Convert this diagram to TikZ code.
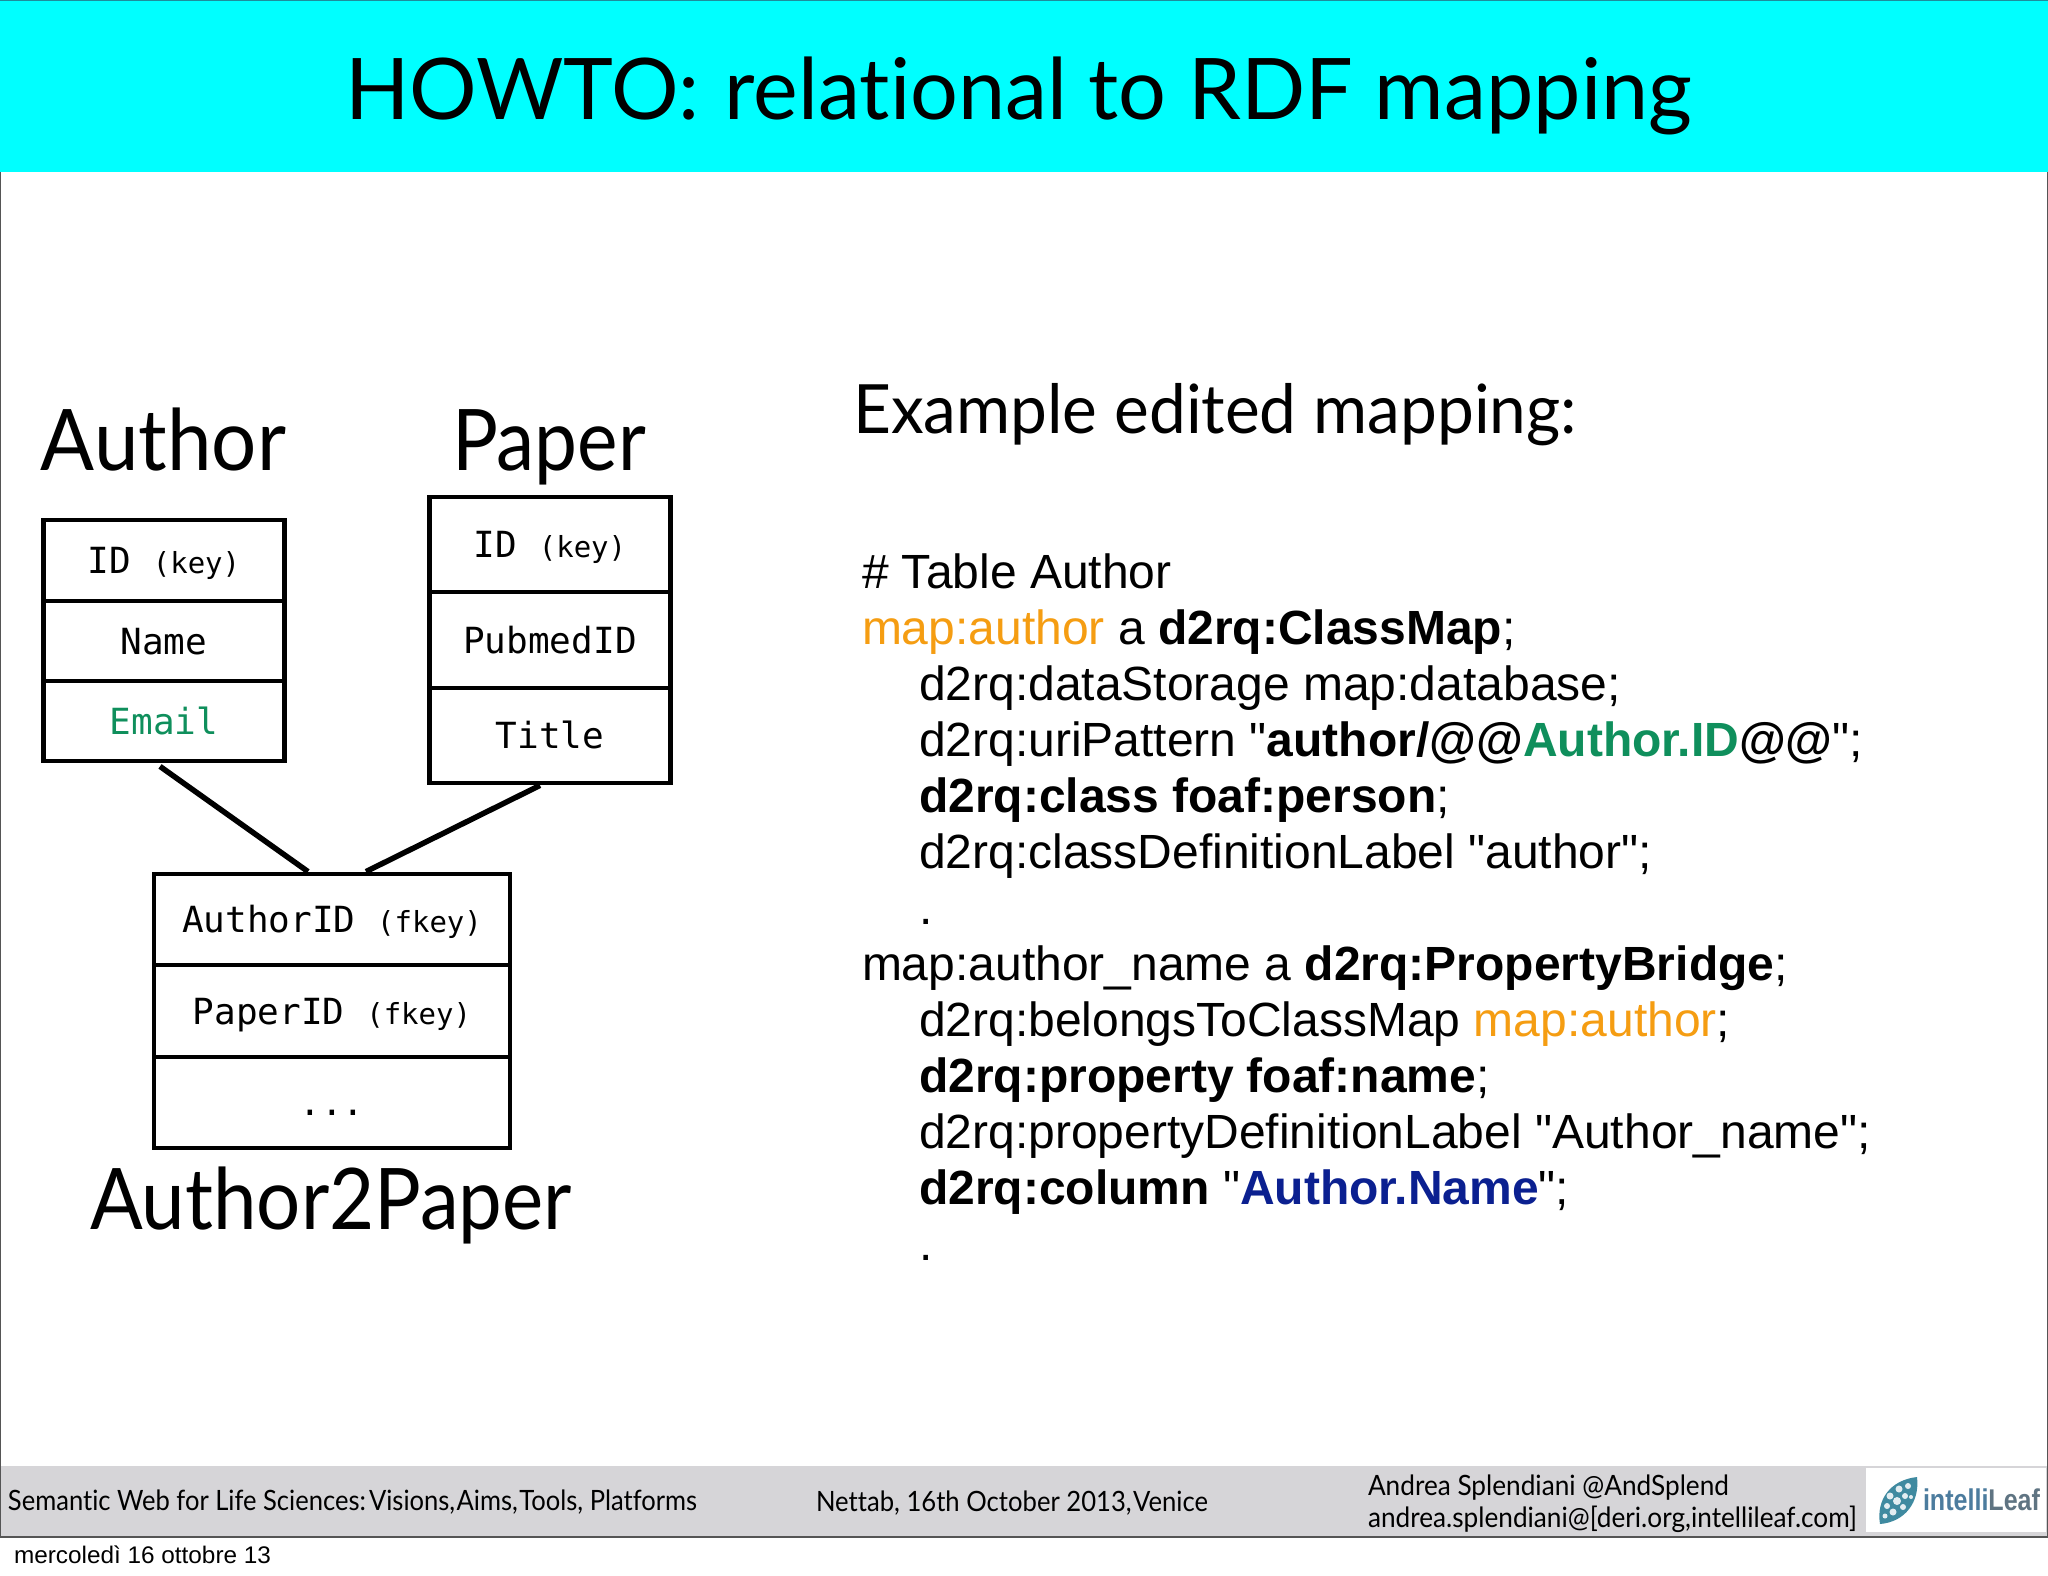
\documentclass[tikz,border=0pt]{standalone}
\usepackage{graphicx}
\usepackage{fontspec}
\setmainfont{Liberation Sans}[Ligatures=TeXOff]
\newfontfamily\gill{Lato}[Ligatures=NoCommon]
\newfontfamily\monof{DejaVu Sans Mono}
\definecolor{bandcyan}{HTML}{00FFFF}
\definecolor{bandedge}{HTML}{1E8C9C}
\definecolor{footgrey}{HTML}{D6D5D8}
\definecolor{framegrey}{HTML}{555555}
\definecolor{mapor}{HTML}{F59D12}
\definecolor{idgreen}{HTML}{0F8F5C}
\definecolor{nameblue}{HTML}{0B2090}
\definecolor{leafteal}{HTML}{3F8AA0}
\definecolor{logoblue}{HTML}{4C7C9E}
\definecolor{logogrey}{HTML}{5F7482}
\newcommand\fw[2]{\resizebox{#1pt}{\height}{#2}}
\newcommand\kk[1]{{\fontsize{29}{29}\selectfont #1}}
\newcommand\bb[1]{\textbf{#1}}
\tikzset{
  x=1pt,y=-1pt,
  lab/.style={anchor=base west,inner sep=0,outer sep=0},
  gilltext/.style={lab,font=\gill\fontsize{#1}{#1}\selectfont},
  codeline/.style={lab,font=\fontsize{48}{48}\selectfont},
  cell/.style={draw,line width=4.8pt,inner sep=0,minimum width=#1,minimum height=10pt,
    text height=26pt,text depth=0pt,align=center,font=\monof\fontsize{36}{36}\selectfont},
  conn/.style={line width=5.5pt},
}
\begin{document}
\begin{tikzpicture}
\useasboundingbox (0,0) rectangle (2048,1576);
\fill[white] (0,0) rectangle (2048,1576);
\fill[bandcyan] (0,0) rectangle (2048,172);
\fill[bandedge] (0,0) rectangle (2048,1.5);
\fill[footgrey] (0,1466) rectangle (2048,1536);
\draw[framegrey,line width=1.5pt] (0.7,172) -- (0.7,1536);
\draw[framegrey,line width=1.5pt] (2047.3,172) -- (2047.3,1536);
\draw[framegrey,line width=2pt] (0,1536.5) -- (2048,1536.5);
% title
\node[gilltext=85] (title) at (345,120) {\fw{1347}{HOWTO:{\hspace{.04em}} relational to RDF mapping}};
% table names
\node[gilltext=85] (tauthor) at (41,470) {\fw{245}{Author}};
\node[gilltext=85] (tpaper) at (452,470) {\fw{194}{Paper}};
\node[gilltext=85] (ta2p) at (90,1229) {\fw{482}{Author2Paper}};
\node[gilltext=68] (example) at (853,433) {\fw{724}{Example edited mapping:}};
% Author table
\node[cell=241pt,minimum height=81pt] (a1) at (164,560.5) {ID \kk{(key)}};
\node[cell=241pt,minimum height=80pt] (a2) at (164,641) {Name};
\node[cell=241pt,minimum height=80pt] (a3) at (164,721) {\textcolor{idgreen}{Email}};
% Paper table
\node[cell=241pt,minimum height=95pt] (p1) at (550,544.5) {ID \kk{(key)}};
\node[cell=241pt,minimum height=96pt] (p2) at (550,640) {PubmedID};
\node[cell=241pt,minimum height=95pt] (p3) at (550,735.5) {Title};
% Author2Paper table
\node[cell=356pt,minimum height=91pt] (c1) at (332,919.5) {AuthorID \kk{(fkey)}};
\node[cell=356pt,minimum height=92pt] (c2) at (332,1011) {PaperID \kk{(fkey)}};
\node[cell=356pt,minimum height=91pt] (c3) at (332,1102.5) {...};
% connectors
\draw[conn] ([xshift=-4pt,yshift=-3pt]a3.south) -- ([xshift=-24pt]c1.north);
\draw[conn] ([xshift=-10pt]p3.south) -- ([xshift=34pt]c1.north);
% code
\node[codeline] (l1) at (862,588) {\# Table Author};
\node[codeline] (l2) at (862,644) {\textcolor{mapor}{map:author} a \bb{d2rq:ClassMap};};
\node[codeline] (l3) at (919,700) {d2rq:dataStorage map:database;};
\node[codeline] (l4) at (919,756) {d2rq:uriPattern "\bb{author/@@\textcolor{idgreen}{Author.ID}@@}";};
\node[codeline] (l5) at (919,812) {\bb{d2rq:class foaf:person};};
\node[codeline] (l6) at (919,868) {d2rq:classDefinitionLabel "author";};
\node[codeline] (l7) at (919,924) {.};
\node[codeline] (l8) at (862,980) {map:author\_name a \bb{d2rq:PropertyBridge};};
\node[codeline] (l9) at (919,1036) {d2rq:belongsToClassMap \textcolor{mapor}{map:author};};
\node[codeline] (l10) at (919,1092) {\bb{d2rq:property foaf:name};};
\node[codeline] (l11) at (919,1148) {d2rq:propertyDefinitionLabel "Author\_name";};
\node[codeline] (l12) at (919,1204) {\bb{d2rq:column} "\textcolor{nameblue}{\bb{Author.Name}}";};
\node[codeline] (l13) at (919,1260) {.};
% footer
\node[gilltext=28] (f1) at (8,1510) {\fw{689}{Semantic Web for Life Sciences:\hspace{-.22em} Visions,\hspace{-.2em} Aims,\hspace{-.2em} Tools, Platforms}};
\node[gilltext=28] (f2) at (816,1511) {\fw{392}{Nettab, 16th October 2013,\hspace{-.2em} Venice}};
\node[gilltext=28] (f3) at (1368,1495) {\fw{361}{Andrea Splendiani @AndSplend}};
\node[gilltext=28] (f4) at (1368,1527) {\fw{489}{andrea.splendiani@[deri.org,intellileaf.com]}};
\node[lab,font=\fontsize{24}{24}\selectfont] (date) at (14,1563) {\fw{257}{mercoledì 16 ottobre 13}};
% logo
\fill[white] (1866,1468) rectangle (2046,1532);
\fill[leafteal] (1917,1477) .. controls (1890,1480) and (1876,1500) .. (1880,1524) .. controls (1905,1522) and (1920,1502) .. (1917,1477) -- cycle;
\foreach \cx/\cy/\r in {1908/1486/3,1899/1489/3.5,1890/1496/3.5,1905/1496/3,1897/1501/4,1887/1506/3,1903/1507/3,1893/1512/3.5,1885/1516/2.5,1911/1497/2}
  \fill[white!85!leafteal] (\cx,\cy) circle (\r);
\node[lab,font=\bfseries\fontsize{30}{30}\selectfont] (logo) at (1923,1510) {\fw{117}{\textcolor{logoblue}{intelli}\textcolor{logogrey}{Leaf}}};
\end{tikzpicture}
\end{document}
